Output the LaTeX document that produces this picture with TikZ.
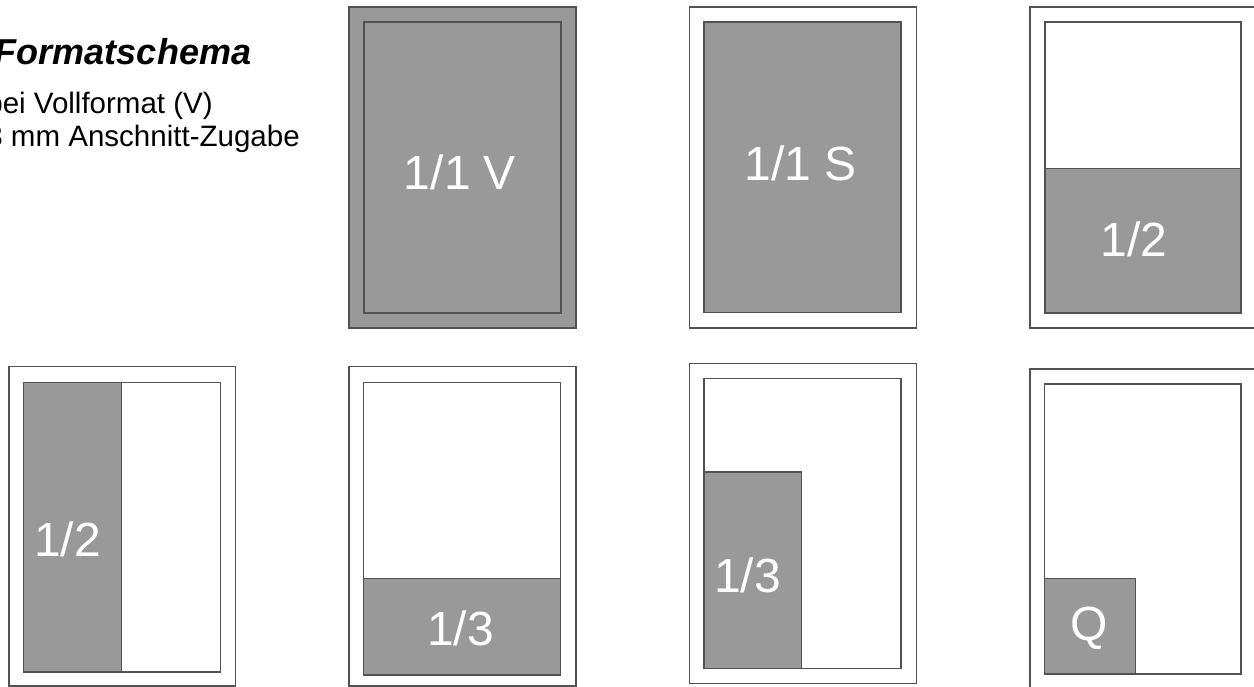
\documentclass[tikz,border=0pt]{standalone}
\usepackage{fontspec}
\setmainfont{Liberation Sans}
\usepackage{xcolor}
\usepackage{tikz}
\usetikzlibrary{positioning}

\begin{document}
\begin{tikzpicture}[
  sheet/.style={draw=black!68,line width=1.1pt,fill=white},
  sheetV/.style={draw=black!68,line width=1.1pt,fill=black!40},
  area/.style={draw=black!68,line width=1.1pt},
  ad/.style={draw=black!68,line width=1.1pt,fill=black!40},
  adlab/.style={text=white,anchor=base,inner sep=0pt,font=\fontsize{27.3}{30}\selectfont},
  hd/.style={anchor=base east,inner sep=0pt,font=\fontsize{20.5}{24}\selectfont\bfseries\itshape},
  sub/.style={anchor=base west,inner sep=0pt,font=\fontsize{16.8}{19}\selectfont},
  x=1cm,y=1cm]

\useasboundingbox (0,0) rectangle (25.08,13.74);
\clip (0,0) rectangle (25.08,13.74);

% ================= heading =================
\node[hd](title) at (5.03,12.454){Formatschema};
\node[sub](subA) at (-0.28,11.47){bei Vollformat (V)};
\node[sub](subB) at (-0.28,10.81){3 mm Anschnitt-Zugabe};

% ================= Row 1 =================
% 1/1 V: bleed all round
\draw[sheetV] (6.98,7.18) rectangle (11.52,13.60);
\draw[area] (7.28,7.48) rectangle (11.22,13.30);
\node[adlab](fullV) at (9.20,9.95){1/1 V};
% 1/1 S
\draw[sheet] (13.79,7.18) rectangle (18.33,13.60);
\draw[ad] (14.08,7.49) rectangle (18.02,13.30);
\node[adlab](fullS) at (16.01,10.12){1/1 S};
% 1/2 across
\draw[sheet] (20.60,7.18) rectangle (25.12,13.60);
\draw[ad] (20.90,7.48) rectangle (24.82,10.37);
\draw[area] (20.90,7.48) rectangle (24.82,13.30);
\node[adlab](halfQ) at (22.68,8.61){1/2};

% ================= Row 2 =================
% 1/2 upright
\draw[sheet] (0.18,0.02) rectangle (4.71,6.41);
\draw[ad] (0.47,0.30) rectangle (2.43,6.09);
\draw[area] (0.47,0.30) rectangle (4.41,6.09);
\node[adlab](halfH) at (1.35,2.61){1/2};
% 1/3 across
\draw[sheet] (6.98,0.02) rectangle (11.52,6.41);
\draw[ad] (7.27,0.24) rectangle (11.21,2.17);
\draw[area] (7.27,0.24) rectangle (11.21,6.09);
\node[adlab](thirdQ) at (9.21,0.82){1/3};
% 1/3 upright
\draw[sheet] (13.79,0.07) rectangle (18.33,6.47);
\draw[ad] (14.08,0.37) rectangle (16.03,4.30);
\draw[area] (14.08,0.37) rectangle (18.02,6.17);
\node[adlab](thirdH) at (14.95,1.88){1/3};
% Q
\draw[sheet] (20.60,-0.04) rectangle (25.12,6.36);
\draw[ad] (20.89,0.26) rectangle (22.71,2.17);
\draw[area] (20.89,0.26) rectangle (24.82,6.06);
\node[adlab](quarter) at (21.78,0.92){Q};
\end{tikzpicture}
\end{document}
